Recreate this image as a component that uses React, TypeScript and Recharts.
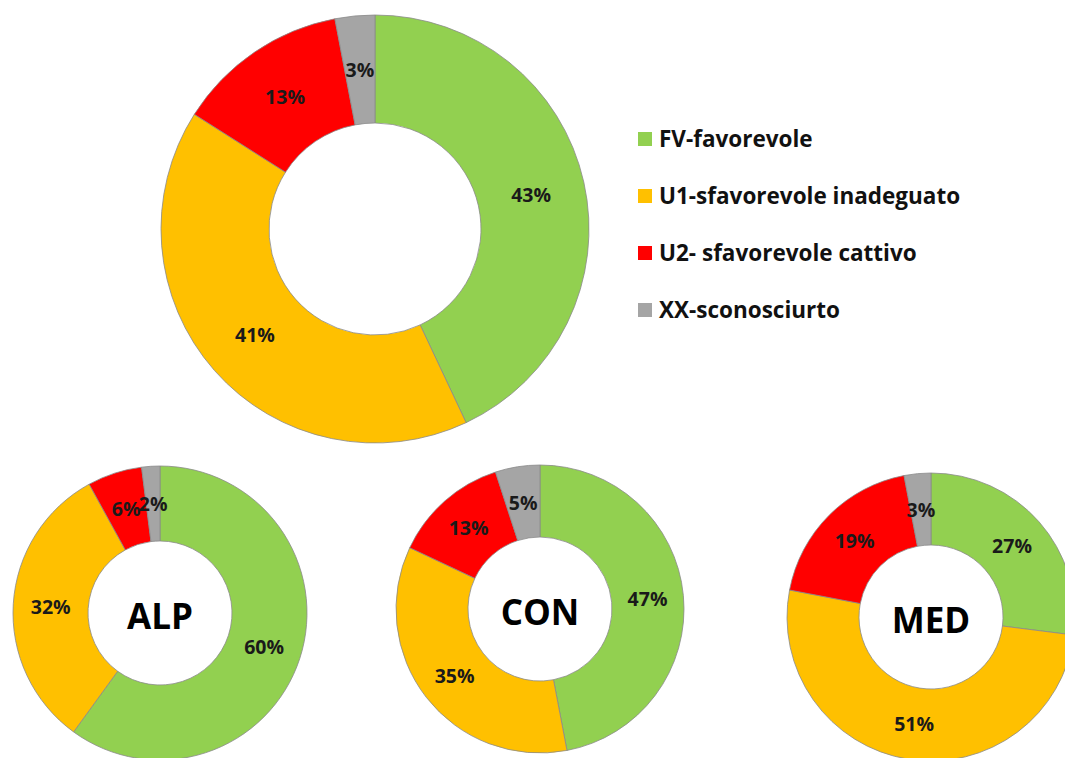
import React from 'react';
import { PieChart, Pie, Cell, Legend } from 'recharts';

const categories = ['FV-favorevole', 'U1-sfavorevole inadeguato', 'U2- sfavorevole cattivo', 'XX-sconosciurto'];
const colors = ['#92D050', '#FFC000', '#FF0000', '#A5A5A5'];
const totalValues = [43, 41, 13, 3];
const alpValues = [60, 32, 6, 2];
const conValues = [47, 35, 13, 5];
const medValues = [27, 51, 19, 3];
const regionNames = ['ALP', 'CON', 'MED'];

const toData = (vals: number[]) => categories.map((name, i) => ({ name, value: vals[i] }));

const FONT = '"Open Sans", "DejaVu Sans", sans-serif';
const RAD = Math.PI / 180;

const makeLabel = (title: string) => (props: any) => {
  const { cx, cy, midAngle, innerRadius, outerRadius, value, index } = props;
  const r = (innerRadius + outerRadius) / 2;
  const x = cx + r * Math.cos(-midAngle * RAD);
  const y = cy + r * Math.sin(-midAngle * RAD);
  return (
    <g>
      <text x={x} y={y} textAnchor="middle" dominantBaseline="central" fill="#1a1a1a"
        style={{ fontFamily: FONT, fontWeight: 700, fontSize: 19.5 }}>
        {value}%
      </text>
      {index === 0 && title ? (
        <text x={cx} y={cy + 2} textAnchor="middle" dominantBaseline="central" fill="#000"
          style={{ fontFamily: FONT, fontWeight: 700, fontSize: 35 }}>
          {title}
        </text>
      ) : null}
    </g>
  );
};

const LegendContent = () => (
  <div style={{ fontFamily: FONT, fontWeight: 700, fontSize: 22.5, color: '#111' }}>
    {categories.map((c, i) => (
      <div key={c} style={{ display: 'flex', alignItems: 'center', height: 57 }}>
        <span style={{ display: 'inline-block', width: 14, height: 14, background: colors[i], marginRight: 7 }} />
        <span>{c}</span>
      </div>
    ))}
  </div>
);

const pies = [
  { key: 'tot', data: totalValues, cx: 375, cy: 229, outer: 214, inner: 106, title: '' },
  { key: 'alp', data: alpValues, cx: 160, cy: 613, outer: 147, inner: 72, title: regionNames[0] },
  { key: 'con', data: conValues, cx: 540, cy: 609, outer: 144, inner: 72, title: regionNames[1] },
  { key: 'med', data: medValues, cx: 931, cy: 617, outer: 144, inner: 72, title: regionNames[2] },
];

export default function App() {
  return (
    <div style={{ position: 'absolute', left: 0, top: 0, width: 1065, height: 758, background: '#fff', overflow: 'hidden' }}>
      <PieChart width={1065} height={758} margin={{ top: 0, right: 0, bottom: 0, left: 0 }}>
        {pies.map((p) => (
          <Pie
            key={p.key}
            data={toData(p.data)}
            dataKey="value"
            nameKey="name"
            cx={p.cx}
            cy={p.cy}
            innerRadius={p.inner}
            outerRadius={p.outer}
            startAngle={90}
            endAngle={-270}
            stroke="#8a8a8a"
            strokeWidth={0.8}
            label={makeLabel(p.title)}
            labelLine={false}
            isAnimationActive={false}
          >
            {p.data.map((_, i) => (
              <Cell key={i} fill={colors[i]} />
            ))}
          </Pie>
        ))}
        <Legend
          layout="vertical"
          align="right"
          verticalAlign="top"
          content={<LegendContent />}
          wrapperStyle={{ left: 638, top: 110, width: 420, right: 'auto' }}
        />
      </PieChart>
    </div>
  );
}
